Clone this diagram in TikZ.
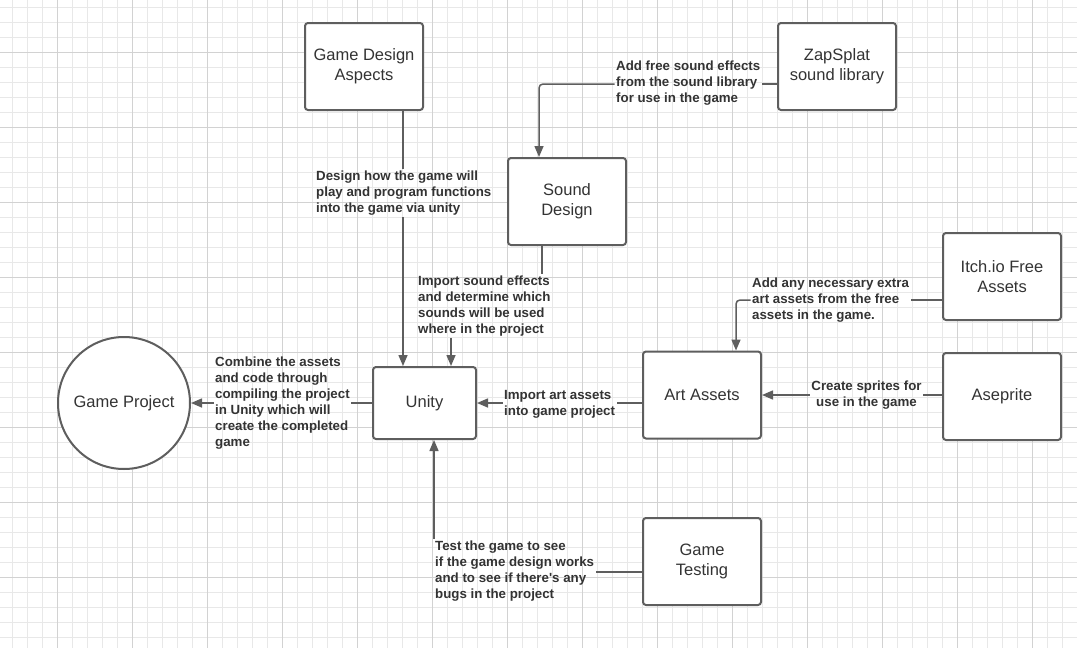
\documentclass[tikz,border=0pt]{standalone}
\usepackage{fontspec}
\setmainfont{Liberation Sans}[Ligatures=TeXOff]
\usetikzlibrary{arrows.meta,calc}
\definecolor{gridminor}{HTML}{E8E8E8}
\definecolor{gridmajor}{HTML}{D2D2D2}
\definecolor{linec}{HTML}{5E5E5E}
\definecolor{textc}{HTML}{333333}
\begin{document}
\begin{tikzpicture}[x=1pt,y=-1pt,
  box/.style={draw=linec, line width=2pt, rounded corners=3pt, fill=white,
    minimum width=118pt, minimum height=87pt, inner sep=0pt, text=textc,
    font=\fontsize{16.5}{20}\selectfont, align=center},
  lbl/.style={text=textc, font=\fontsize{13.3}{16}\selectfont\bfseries, align=left, inner sep=1.5pt},
  conn/.style={draw=linec, line width=1.5pt},
  arr/.style={conn, -{Triangle[length=11pt,width=9pt]}}]
\useasboundingbox (0,0) rectangle (1077,648);
\fill[white] (0,0) rectangle (1077,648);
% grid
\foreach \x in {12.5,27.5,...,1077} \draw[gridminor, line width=1pt] (\x,0) -- (\x,648);
\foreach \y in {7.5,22.5,...,648} \draw[gridminor, line width=1pt] (0,\y) -- (1077,\y);
\foreach \x in {57.5,132.5,...,1077} \draw[gridmajor, line width=1pt] (\x,0) -- (\x,648);
\foreach \y in {52.5,127.5,...,648} \draw[gridmajor, line width=1pt] (0,\y) -- (1077,\y);

% nodes
\node[box] (gda) at (364,66.5) {Game Design\\Aspects};
\node[box] (zap) at (837,66.5) {ZapSplat\\sound library};
\node[box] (sd) at (567,201.5) {Sound\\Design};
\node[box] (itch) at (1002,276.5) {Itch.io Free\\Assets};
\node[box] (art) at (702,395) {Art Assets};
\node[box] (ase) at (1002,396.5) {Aseprite};
\node[box, minimum width=103pt, minimum height=72pt] (unity) at (424.5,403) {Unity};
\node[draw=linec, line width=2pt, circle, minimum size=132pt, inner sep=0pt, fill=white,
  text=textc, font=\fontsize{16.5}{20}\selectfont] (gp) at (124,403) {Game Project};
\node[box] (gt) at (702,561.5) {Game\\Testing};

% labels
\node[lbl, anchor=west] (l1) at (314.5,193) {Design how the game will\\play and program functions\\into the game via unity};
\node[lbl, anchor=west] (l2) at (416.5,306) {Import sound effects\\and determine which\\sounds will be used\\where in the project};
\node[lbl, anchor=west] (l3) at (614.5,83) {Add free sound effects\\from the sound library\\for use in the game};
\node[lbl, anchor=west] (l4) at (750.5,300) {Add any necessary extra\\art assets from the free\\assets in the game.};
\node[lbl, align=center] (l5) at (866.5,395) {Create sprites for\\use in the game};
\node[lbl, anchor=west] (l6) at (502.5,404) {Import art assets\\into game project};
\node[lbl, anchor=west] (l7) at (213.5,403) {Combine the assets\\and code through\\compiling the project\\in Unity which will\\create the completed\\game};
\node[lbl, anchor=west] (l8) at (433.5,571) {Test the game to see\\if the game design works\\and to see if there's any\\bugs in the project};

% bend coordinates
\coordinate (c3) at (539,84);
\coordinate (c4) at (736,300);
\coordinate (c8) at (434,572);

% connectors
\draw[conn] ([xshift=39pt]gda.south) -- ([xshift=39pt]gda.south |- l1.north);
\draw[arr] ([xshift=-21.5pt]unity.north |- l1.south) -- ([xshift=-21.5pt]unity.north);

\draw[conn] ([xshift=-25pt]sd.south) -- ([xshift=-25pt]sd.south |- l2.north);
\draw[arr] ([xshift=26.5pt]unity.north |- l2.south) -- ([xshift=26.5pt]unity.north);

\draw[conn] (zap.west |- c3) -- (l3.east |- c3);
\draw[arr, rounded corners=4pt] (l3.west |- c3) -- (c3) -- (sd.north -| c3);

\draw[conn] (itch.west |- c4) -- (l4.east |- c4);
\draw[arr, rounded corners=4pt] (l4.west |- c4) -- (c4) -- (art.north -| c4);

\draw[conn] (ase.west |- art.east) -- (l5.east |- art.east);
\draw[arr] (l5.west |- art.east) -- (art.east);

\draw[conn] (art.west |- unity.east) -- (l6.east |- unity.east);
\draw[arr] (l6.west |- unity.east) -- (unity.east);

\draw[conn] (unity.west) -- (unity.west -| l7.east);
\draw[arr] (l7.west |- unity.west) -- (gp.east);

\draw[conn] (gt.west |- c8) -- (l8.east |- c8);
\draw[arr] (c8 |- l8.north) -- (unity.south -| c8);
\end{tikzpicture}
\end{document}
